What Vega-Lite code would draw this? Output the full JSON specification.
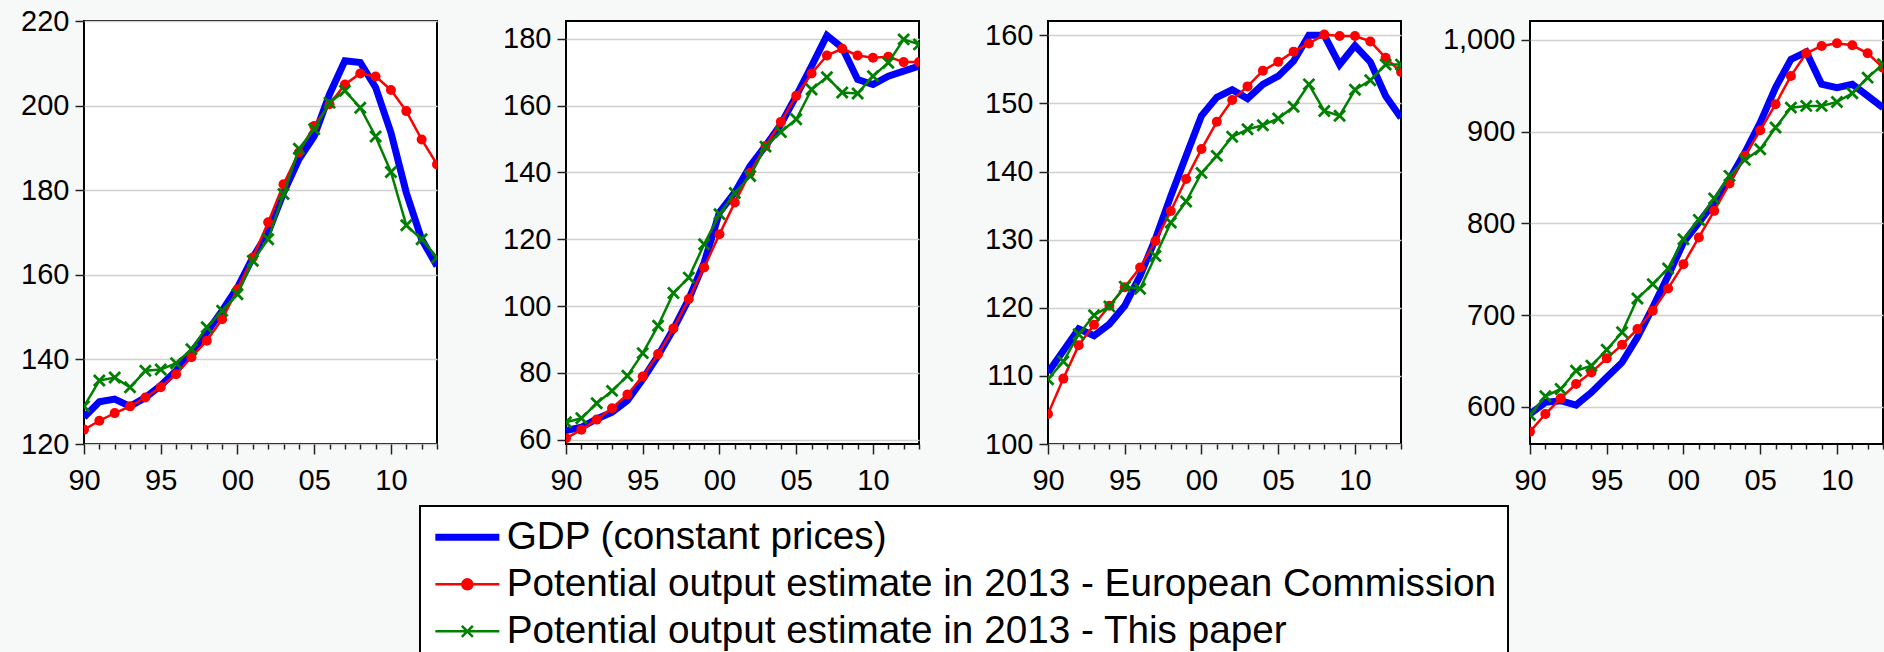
{
  "$schema": "https://vega.github.io/schema/vega-lite/v6.json",
  "background": "#f7f9f8",
  "padding": {"left": 5, "top": 6, "right": 0, "bottom": 0},
  "datasets": {
    "d": [
      {"p":1,"yr":1990,"GDP":126.3,"EC":123.4,"TP":128.9},
      {"p":1,"yr":1991,"GDP":130.0,"EC":125.5,"TP":135.0},
      {"p":1,"yr":1992,"GDP":130.6,"EC":127.3,"TP":135.7},
      {"p":1,"yr":1993,"GDP":128.9,"EC":128.9,"TP":133.4},
      {"p":1,"yr":1994,"GDP":131.0,"EC":131.0,"TP":137.3},
      {"p":1,"yr":1995,"GDP":133.8,"EC":133.4,"TP":137.6},
      {"p":1,"yr":1996,"GDP":137.3,"EC":136.5,"TP":139.1},
      {"p":1,"yr":1997,"GDP":141.7,"EC":140.5,"TP":142.4},
      {"p":1,"yr":1998,"GDP":146.4,"EC":144.4,"TP":147.6},
      {"p":1,"yr":1999,"GDP":151.5,"EC":149.5,"TP":151.5},
      {"p":1,"yr":2000,"GDP":157.0,"EC":156.6,"TP":155.4},
      {"p":1,"yr":2001,"GDP":164.1,"EC":164.1,"TP":163.3},
      {"p":1,"yr":2002,"GDP":170.0,"EC":172.4,"TP":168.4},
      {"p":1,"yr":2003,"GDP":179.4,"EC":181.4,"TP":179.1},
      {"p":1,"yr":2004,"GDP":187.3,"EC":188.9,"TP":189.8},
      {"p":1,"yr":2005,"GDP":192.8,"EC":195.2,"TP":194.4},
      {"p":1,"yr":2006,"GDP":202.7,"EC":200.3,"TP":200.7},
      {"p":1,"yr":2007,"GDP":210.6,"EC":205.0,"TP":203.5},
      {"p":1,"yr":2008,"GDP":210.2,"EC":207.6,"TP":199.5},
      {"p":1,"yr":2009,"GDP":204.3,"EC":206.9,"TP":192.7},
      {"p":1,"yr":2010,"GDP":193.6,"EC":203.7,"TP":184.3},
      {"p":1,"yr":2011,"GDP":179.4,"EC":198.7,"TP":171.7},
      {"p":1,"yr":2012,"GDP":168.4,"EC":192.0,"TP":168.4},
      {"p":1,"yr":2013,"GDP":162.1,"EC":186.1,"TP":164.1},
      {"p":2,"yr":1990,"GDP":62.7,"EC":60.4,"TP":65.2},
      {"p":2,"yr":1991,"GDP":63.7,"EC":63.0,"TP":66.4},
      {"p":2,"yr":1992,"GDP":66.2,"EC":66.0,"TP":70.9},
      {"p":2,"yr":1993,"GDP":68.2,"EC":69.4,"TP":74.6},
      {"p":2,"yr":1994,"GDP":71.7,"EC":73.5,"TP":79.1},
      {"p":2,"yr":1995,"GDP":78.1,"EC":78.9,"TP":85.9},
      {"p":2,"yr":1996,"GDP":85.1,"EC":85.6,"TP":94.1},
      {"p":2,"yr":1997,"GDP":93.1,"EC":93.3,"TP":103.9},
      {"p":2,"yr":1998,"GDP":102.1,"EC":102.1,"TP":108.5},
      {"p":2,"yr":1999,"GDP":113.0,"EC":111.5,"TP":118.5},
      {"p":2,"yr":2000,"GDP":128.0,"EC":121.5,"TP":127.5},
      {"p":2,"yr":2001,"GDP":134.0,"EC":131.0,"TP":133.8},
      {"p":2,"yr":2002,"GDP":141.9,"EC":139.9,"TP":138.9},
      {"p":2,"yr":2003,"GDP":147.9,"EC":147.9,"TP":147.7},
      {"p":2,"yr":2004,"GDP":154.4,"EC":155.1,"TP":152.1},
      {"p":2,"yr":2005,"GDP":162.9,"EC":162.9,"TP":155.9},
      {"p":2,"yr":2006,"GDP":171.8,"EC":169.6,"TP":164.8},
      {"p":2,"yr":2007,"GDP":181.0,"EC":175.0,"TP":168.5},
      {"p":2,"yr":2008,"GDP":177.3,"EC":177.0,"TP":163.9},
      {"p":2,"yr":2009,"GDP":167.8,"EC":175.0,"TP":163.6},
      {"p":2,"yr":2010,"GDP":166.3,"EC":174.3,"TP":168.8},
      {"p":2,"yr":2011,"GDP":168.8,"EC":174.6,"TP":172.8},
      {"p":2,"yr":2012,"GDP":170.3,"EC":173.0,"TP":179.8},
      {"p":2,"yr":2013,"GDP":171.8,"EC":173.0,"TP":178.3},
      {"p":3,"yr":1990,"GDP":110.5,"EC":104.4,"TP":109.5},
      {"p":3,"yr":1991,"GDP":113.7,"EC":109.6,"TP":112.1},
      {"p":3,"yr":1992,"GDP":116.9,"EC":114.5,"TP":116.1},
      {"p":3,"yr":1993,"GDP":115.9,"EC":117.5,"TP":118.9},
      {"p":3,"yr":1994,"GDP":117.6,"EC":120.3,"TP":120.2},
      {"p":3,"yr":1995,"GDP":120.3,"EC":123.0,"TP":123.1},
      {"p":3,"yr":1996,"GDP":124.7,"EC":125.9,"TP":122.8},
      {"p":3,"yr":1997,"GDP":130.1,"EC":129.8,"TP":127.6},
      {"p":3,"yr":1998,"GDP":136.4,"EC":134.2,"TP":132.5},
      {"p":3,"yr":1999,"GDP":142.3,"EC":138.9,"TP":135.6},
      {"p":3,"yr":2000,"GDP":148.2,"EC":143.3,"TP":139.8},
      {"p":3,"yr":2001,"GDP":150.9,"EC":147.3,"TP":142.3},
      {"p":3,"yr":2002,"GDP":152.0,"EC":150.5,"TP":145.1},
      {"p":3,"yr":2003,"GDP":150.7,"EC":152.5,"TP":146.2},
      {"p":3,"yr":2004,"GDP":152.8,"EC":154.8,"TP":146.8},
      {"p":3,"yr":2005,"GDP":154.0,"EC":156.1,"TP":147.8},
      {"p":3,"yr":2006,"GDP":156.2,"EC":157.6,"TP":149.5},
      {"p":3,"yr":2007,"GDP":160.0,"EC":158.8,"TP":152.8},
      {"p":3,"yr":2008,"GDP":160.0,"EC":160.1,"TP":148.9},
      {"p":3,"yr":2009,"GDP":155.7,"EC":159.9,"TP":148.2},
      {"p":3,"yr":2010,"GDP":158.5,"EC":159.9,"TP":152.0},
      {"p":3,"yr":2011,"GDP":156.1,"EC":159.1,"TP":153.4},
      {"p":3,"yr":2012,"GDP":151.1,"EC":156.7,"TP":155.7},
      {"p":3,"yr":2013,"GDP":147.9,"EC":154.6,"TP":155.7},
      {"p":4,"yr":1990,"GDP":592.0,"EC":572.8,"TP":590.9},
      {"p":4,"yr":1991,"GDP":604.7,"EC":592.0,"TP":611.3},
      {"p":4,"yr":1992,"GDP":606.5,"EC":609.1,"TP":619.3},
      {"p":4,"yr":1993,"GDP":601.8,"EC":624.7,"TP":639.2},
      {"p":4,"yr":1994,"GDP":615.6,"EC":637.4,"TP":644.7},
      {"p":4,"yr":1995,"GDP":632.0,"EC":652.7,"TP":662.1},
      {"p":4,"yr":1996,"GDP":648.3,"EC":667.6,"TP":681.1},
      {"p":4,"yr":1997,"GDP":675.6,"EC":684.7,"TP":718.1},
      {"p":4,"yr":1998,"GDP":708.3,"EC":704.6,"TP":733.7},
      {"p":4,"yr":1999,"GDP":742.8,"EC":729.0,"TP":750.8},
      {"p":4,"yr":2000,"GDP":779.1,"EC":755.5,"TP":782.7},
      {"p":4,"yr":2001,"GDP":800.9,"EC":784.6,"TP":803.8},
      {"p":4,"yr":2002,"GDP":822.7,"EC":813.6,"TP":827.1},
      {"p":4,"yr":2003,"GDP":848.1,"EC":843.4,"TP":851.8},
      {"p":4,"yr":2004,"GDP":877.2,"EC":873.6,"TP":869.2},
      {"p":4,"yr":2005,"GDP":909.9,"EC":901.5,"TP":880.8},
      {"p":4,"yr":2006,"GDP":948.0,"EC":929.9,"TP":904.5},
      {"p":4,"yr":2007,"GDP":978.9,"EC":960.8,"TP":926.2},
      {"p":4,"yr":2008,"GDP":986.9,"EC":985.5,"TP":928.1},
      {"p":4,"yr":2009,"GDP":951.7,"EC":993.5,"TP":928.1},
      {"p":4,"yr":2010,"GDP":948.0,"EC":996.4,"TP":932.4},
      {"p":4,"yr":2011,"GDP":951.7,"EC":994.2,"TP":941.9},
      {"p":4,"yr":2012,"GDP":939.0,"EC":985.5,"TP":958.9},
      {"p":4,"yr":2013,"GDP":926.2,"EC":969.8,"TP":973.5}
    ]
  },
  "data": {"name": "d"},
  "transform": [{"fold": ["GDP", "EC", "TP"], "as": ["s", "v"]}],
  "spacing": 129,
  "bounds": "flush",
  "resolve": {"scale": {"x": "independent", "y": "independent", "color": "shared"}, "legend": {"color": "shared"}},
  "hconcat": [
    {
      "width": 353, "height": 423,
      "transform": [{"filter": "datum.p == 1"}],
      "encoding": {
        "x": {"field": "yr", "type": "quantitative", "scale": {"domain": [1990, 2013], "nice": false, "zero": false}, "axis": {"title": null, "format": "d", "values": [1990,1991,1992,1993,1994,1995,1996,1997,1998,1999,2000,2001,2002,2003,2004,2005,2006,2007,2008,2009,2010,2011,2012,2013], "labelExpr": "datum.value % 5 == 0 ? substring(datum.label, 2) : ''", "tickSize": {"condition": {"test": "datum.value % 5 == 0", "value": 10}, "value": 5}}},
        "y": {"field": "v", "type": "quantitative", "scale": {"domain": [120, 220], "nice": false, "zero": false}, "axis": {"title": null, "values": [120, 140, 160, 180, 200, 220]}}
      },
      "layer": [
        {"transform": [{"filter": "datum.s == 'GDP'"}], "mark": {"type": "line", "strokeWidth": 7, "clip": true},
         "encoding": {"color": {"datum": "GDP (constant prices)",
           "scale": {"domain": ["GDP (constant prices)", "Potential output estimate in 2013 - European Commission", "Potential output estimate in 2013 - This paper"], "range": ["#0000ff", "#ff0000", "#008000"]},
           "legend": {"orient": "none", "legendX": 336, "legendY": 485, "title": null, "direction": "vertical",
             "labelFont": "Liberation Sans", "labelFontSize": 38.7, "labelColor": "black", "labelLimit": 2000,
             "symbolSize": 400, "labelOffset": 36, "padding": 12, "rowPadding": 7,
             "strokeColor": "black", "fillColor": "white", "symbolStrokeWidth": 2.5,
             "encode": {
               "legend": {"update": {"strokeWidth": {"value": 2}}},
               "symbols": {"update": {
                 "shape": {"signal": "datum.value == 'GDP (constant prices)' ? 'M-1.6,0H4.8' : (indexof(datum.value, 'European') >= 0 ? 'M-1.6,0H4.8M1.1,0A0.5,0.5 0 1,0 2.1,0A0.5,0.5 0 1,0 1.1,0Z' : 'M-1.6,0H4.8M1.05,-0.55L2.15,0.55M1.05,0.55L2.15,-0.55')"},
                 "strokeWidth": {"signal": "datum.value == 'GDP (constant prices)' ? 7 : 2.5"},
                 "stroke": {"signal": "datum.value == 'GDP (constant prices)' ? '#0000ff' : (indexof(datum.value, 'European') >= 0 ? '#ff0000' : '#008000')"},
                 "fill": {"signal": "indexof(datum.value, 'European') >= 0 ? '#ff0000' : 'transparent'"},
                 "opacity": {"value": 1}
               }}
             }}}}},
        {"transform": [{"filter": "datum.s == 'EC'"}], "mark": {"type": "line", "strokeWidth": 2.5, "clip": true},
         "encoding": {"color": {"datum": "Potential output estimate in 2013 - European Commission"}}},
        {"transform": [{"filter": "datum.s == 'EC'"}], "mark": {"type": "point", "filled": true, "size": 100, "opacity": 1, "clip": true},
         "encoding": {"color": {"datum": "Potential output estimate in 2013 - European Commission"}}},
        {"transform": [{"filter": "datum.s == 'TP'"}], "mark": {"type": "line", "strokeWidth": 2.5, "clip": true},
         "encoding": {"color": {"datum": "Potential output estimate in 2013 - This paper"}}},
        {"transform": [{"filter": "datum.s == 'TP'"}], "mark": {"type": "point", "shape": "M-1,-1L1,1M-1,1L1,-1", "filled": false, "strokeWidth": 2.8, "size": 120, "opacity": 1, "clip": true},
         "encoding": {"color": {"datum": "Potential output estimate in 2013 - This paper"}}}
      ]
    },
    {
      "width": 353, "height": 423,
      "transform": [{"filter": "datum.p == 2"}],
      "encoding": {
        "x": {"field": "yr", "type": "quantitative", "scale": {"domain": [1990, 2013], "nice": false, "zero": false}, "axis": {"title": null, "format": "d", "values": [1990,1991,1992,1993,1994,1995,1996,1997,1998,1999,2000,2001,2002,2003,2004,2005,2006,2007,2008,2009,2010,2011,2012,2013], "labelExpr": "datum.value % 5 == 0 ? substring(datum.label, 2) : ''", "tickSize": {"condition": {"test": "datum.value % 5 == 0", "value": 10}, "value": 5}}},
        "y": {"field": "v", "type": "quantitative", "scale": {"domain": [58.7, 185.3], "nice": false, "zero": false}, "axis": {"title": null, "values": [60, 80, 100, 120, 140, 160, 180]}}
      },
      "layer": [
        {"transform": [{"filter": "datum.s == 'GDP'"}], "mark": {"type": "line", "strokeWidth": 7, "clip": true},
         "encoding": {"color": {"datum": "GDP (constant prices)"}}},
        {"transform": [{"filter": "datum.s == 'EC'"}], "mark": {"type": "line", "strokeWidth": 2.5, "clip": true},
         "encoding": {"color": {"datum": "Potential output estimate in 2013 - European Commission"}}},
        {"transform": [{"filter": "datum.s == 'EC'"}], "mark": {"type": "point", "filled": true, "size": 100, "opacity": 1, "clip": true},
         "encoding": {"color": {"datum": "Potential output estimate in 2013 - European Commission"}}},
        {"transform": [{"filter": "datum.s == 'TP'"}], "mark": {"type": "line", "strokeWidth": 2.5, "clip": true},
         "encoding": {"color": {"datum": "Potential output estimate in 2013 - This paper"}}},
        {"transform": [{"filter": "datum.s == 'TP'"}], "mark": {"type": "point", "shape": "M-1,-1L1,1M-1,1L1,-1", "filled": false, "strokeWidth": 2.8, "size": 120, "opacity": 1, "clip": true},
         "encoding": {"color": {"datum": "Potential output estimate in 2013 - This paper"}}}
      ]
    },
    {
      "width": 353, "height": 423,
      "transform": [{"filter": "datum.p == 3"}],
      "encoding": {
        "x": {"field": "yr", "type": "quantitative", "scale": {"domain": [1990, 2013], "nice": false, "zero": false}, "axis": {"title": null, "format": "d", "values": [1990,1991,1992,1993,1994,1995,1996,1997,1998,1999,2000,2001,2002,2003,2004,2005,2006,2007,2008,2009,2010,2011,2012,2013], "labelExpr": "datum.value % 5 == 0 ? substring(datum.label, 2) : ''", "tickSize": {"condition": {"test": "datum.value % 5 == 0", "value": 10}, "value": 5}}},
        "y": {"field": "v", "type": "quantitative", "scale": {"domain": [100, 162.1], "nice": false, "zero": false}, "axis": {"title": null, "values": [100, 110, 120, 130, 140, 150, 160]}}
      },
      "layer": [
        {"transform": [{"filter": "datum.s == 'GDP'"}], "mark": {"type": "line", "strokeWidth": 7, "clip": true},
         "encoding": {"color": {"datum": "GDP (constant prices)"}}},
        {"transform": [{"filter": "datum.s == 'EC'"}], "mark": {"type": "line", "strokeWidth": 2.5, "clip": true},
         "encoding": {"color": {"datum": "Potential output estimate in 2013 - European Commission"}}},
        {"transform": [{"filter": "datum.s == 'EC'"}], "mark": {"type": "point", "filled": true, "size": 100, "opacity": 1, "clip": true},
         "encoding": {"color": {"datum": "Potential output estimate in 2013 - European Commission"}}},
        {"transform": [{"filter": "datum.s == 'TP'"}], "mark": {"type": "line", "strokeWidth": 2.5, "clip": true},
         "encoding": {"color": {"datum": "Potential output estimate in 2013 - This paper"}}},
        {"transform": [{"filter": "datum.s == 'TP'"}], "mark": {"type": "point", "shape": "M-1,-1L1,1M-1,1L1,-1", "filled": false, "strokeWidth": 2.8, "size": 120, "opacity": 1, "clip": true},
         "encoding": {"color": {"datum": "Potential output estimate in 2013 - This paper"}}}
      ]
    },
    {
      "width": 353, "height": 423,
      "transform": [{"filter": "datum.p == 4"}],
      "encoding": {
        "x": {"field": "yr", "type": "quantitative", "scale": {"domain": [1990, 2013], "nice": false, "zero": false}, "axis": {"title": null, "format": "d", "values": [1990,1991,1992,1993,1994,1995,1996,1997,1998,1999,2000,2001,2002,2003,2004,2005,2006,2007,2008,2009,2010,2011,2012,2013], "labelExpr": "datum.value % 5 == 0 ? substring(datum.label, 2) : ''", "tickSize": {"condition": {"test": "datum.value % 5 == 0", "value": 10}, "value": 5}}},
        "y": {"field": "v", "type": "quantitative", "scale": {"domain": [559.3, 1020.7], "nice": false, "zero": false}, "axis": {"title": null, "format": ",d", "values": [600, 700, 800, 900, 1000]}}
      },
      "layer": [
        {"transform": [{"filter": "datum.s == 'GDP'"}], "mark": {"type": "line", "strokeWidth": 7, "clip": true},
         "encoding": {"color": {"datum": "GDP (constant prices)"}}},
        {"transform": [{"filter": "datum.s == 'EC'"}], "mark": {"type": "line", "strokeWidth": 2.5, "clip": true},
         "encoding": {"color": {"datum": "Potential output estimate in 2013 - European Commission"}}},
        {"transform": [{"filter": "datum.s == 'EC'"}], "mark": {"type": "point", "filled": true, "size": 100, "opacity": 1, "clip": true},
         "encoding": {"color": {"datum": "Potential output estimate in 2013 - European Commission"}}},
        {"transform": [{"filter": "datum.s == 'TP'"}], "mark": {"type": "line", "strokeWidth": 2.5, "clip": true},
         "encoding": {"color": {"datum": "Potential output estimate in 2013 - This paper"}}},
        {"transform": [{"filter": "datum.s == 'TP'"}], "mark": {"type": "point", "shape": "M-1,-1L1,1M-1,1L1,-1", "filled": false, "strokeWidth": 2.8, "size": 120, "opacity": 1, "clip": true},
         "encoding": {"color": {"datum": "Potential output estimate in 2013 - This paper"}}}
      ]
    }
  ],
  "config": {
    "view": {"fill": "white", "stroke": "black", "strokeWidth": 2},
    "axis": {"labelFont": "Liberation Sans", "labelFontSize": 29, "labelColor": "black", "tickColor": "#222222", "tickWidth": 1.5, "domain": false, "labelFlush": false, "labelOverlap": false},
    "axisX": {"grid": false, "labelPadding": 12},
    "axisY": {"grid": true, "gridColor": "#d0d0d0", "gridWidth": 1.5, "tickSize": 9, "labelPadding": 6, "minExtent": 78, "maxExtent": 78}
  }
}
